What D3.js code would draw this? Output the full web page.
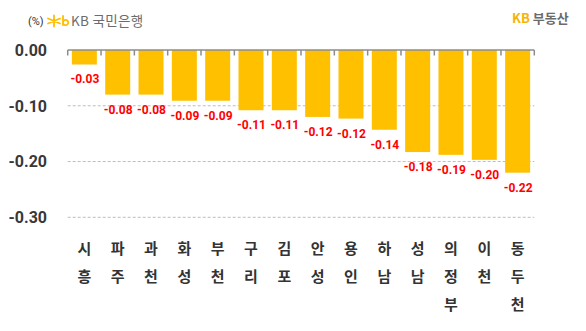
<!DOCTYPE html>
<html><head><meta charset="utf-8">
<script src="https://cdn.jsdelivr.net/npm/d3@7"></script>
<style>body{margin:0;background:#fff}svg{display:block;font-family:Roboto,"Noto Sans CJK KR",sans-serif}</style>
</head><body>
<svg id="c" width="586" height="331"></svg>
<script>
const categories = ["시흥","파주","과천","화성","부천","구리","김포","안성","용인","하남","성남","의정부","이천","동두천"];
const values = [-0.026,-0.080,-0.080,-0.091,-0.091,-0.108,-0.108,-0.120,-0.123,-0.143,-0.183,-0.188,-0.197,-0.220];
const yTicks = [0,-0.10,-0.20,-0.30];

const svg = d3.select("#c");
const x = d3.scaleBand().domain(categories).range([67.7,534.3]).paddingInner(0.25).paddingOuter(0.125);
const y = d3.scaleLinear().domain([0,-0.30]).range([50,217.3]);

// gridlines
svg.append("g").selectAll("line").data(yTicks.filter(d=>d!==0)).join("line")
  .attr("x1",67.7).attr("x2",534.3).attr("y1",d=>y(d)).attr("y2",d=>y(d))
  .attr("stroke","#bdbdbd").attr("stroke-width",1).attr("stroke-dasharray","3,2");

// y labels
svg.append("g").selectAll("text").data(yTicks).join("text")
  .attr("x",47).attr("y",d=>y(d)).attr("dy","0.36em").attr("text-anchor","end")
  .attr("font-size",16).attr("font-weight","bold").attr("fill","#383838")
  .text(d=>d3.format(".2f")(d).replace("−","-"));

// bars
svg.append("g").selectAll("rect").data(values).join("rect")
  .attr("x",(d,i)=>x(categories[i])).attr("width",x.bandwidth())
  .attr("y",y(0)).attr("height",d=>y(d)-y(0)).attr("fill","#ffc000");

// zero axis
const step = x.step();
svg.append("line").attr("x1",67.7).attr("x2",534.3).attr("y1",50).attr("y2",50)
  .attr("stroke","#8c8c8c").attr("stroke-width",1.5);
svg.append("g").selectAll("line").data(d3.range(categories.length+1)).join("line")
  .attr("x1",i=>67.7+i*step).attr("x2",i=>67.7+i*step).attr("y1",50).attr("y2",55.5)
  .attr("stroke","#8c8c8c").attr("stroke-width",1.5);

// value labels
svg.append("g").selectAll("text").data(values).join("text")
  .attr("x",(d,i)=>x(categories[i])+x.bandwidth()/2+0.5).attr("y",d=>y(d)+19)
  .attr("text-anchor","middle").attr("font-size",12).attr("font-weight","bold").attr("fill","#ff0000")
  .text(d=>d3.format(".2f")(d).replace("−","-"));

// x labels (vertical)
const xl = svg.append("g").attr("font-family","'Noto Sans CJK KR',sans-serif").attr("font-size",15).attr("font-weight","bold").attr("fill","#333");
categories.forEach(c=>{
  [...c].forEach((ch,j)=>{
    xl.append("text").attr("x",x(c)+x.bandwidth()/2).attr("y",248.3+j*28.3).attr("dy","0.36em")
      .attr("text-anchor","middle").text(ch);
  });
});

// header
svg.append("text").attr("x",28).attr("y",21).attr("dy","0.35em").attr("font-size",11).attr("fill","#333").text("(%)");
const logo = svg.append("g").attr("transform","translate(54,21)").attr("stroke","#ffbc00").attr("stroke-width",1.8).attr("fill","none").attr("stroke-linecap","round");
logo.append("path").attr("d","M-6,-2.5 L6,2.5 M-6,2.5 L6,-2.5 M0,-5.5 L0,5.5");
logo.append("path").attr("d","M9,-5 L9,4 M9,1.5 a2.6,2.6 0 1,0 5.2,0 a2.6,2.6 0 1,0 -5.2,0");
svg.append("text").attr("x",71).attr("y",21).attr("dy","0.36em").attr("font-size",13.5).attr("fill","#6b6b6b")
  .attr("font-family","'Noto Sans CJK KR',sans-serif").attr("letter-spacing",0.3).text("KB 국민은행");
const rt = svg.append("text").attr("x",512).attr("y",18).attr("dy","0.36em").attr("font-size",13).attr("font-weight","bold")
  .attr("font-family","'Noto Sans CJK KR',sans-serif");
rt.append("tspan").attr("fill","#f7b500").text("KB");
rt.append("tspan").attr("fill","#6b6b6b").attr("dx",3).text("부동산");
</script>
</body></html>
